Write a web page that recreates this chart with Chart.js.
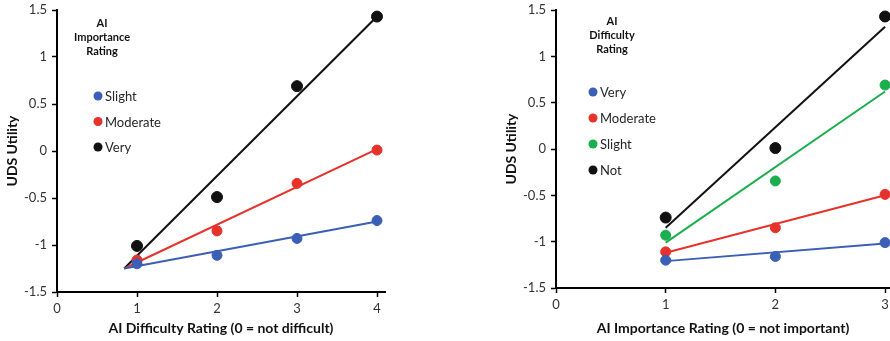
<!DOCTYPE html>
<html>
<head>
<meta charset="utf-8">
<script src="https://cdn.jsdelivr.net/npm/chart.js@4"></script>
<style>
  body { margin: 0; background: #fff; }
  #wrap { position: relative; width: 890px; height: 341px; overflow: hidden; }
  .box { position: absolute; top: 0; width: 445px; height: 341px; }
</style>
</head>
<body>
<div id="wrap">
  <div class="box" style="left:0"><canvas id="left-canvas"></canvas></div>
  <div class="box" style="left:445px"><canvas id="right-canvas"></canvas></div>
</div>
<script>
// left panel: x = AI difficulty rating, series = AI importance
const diffLevels = [1, 2, 3, 4];
const impSlight = [-1.20, -1.11, -0.93, -0.74];
const impModerate = [-1.16, -0.85, -0.345, 0.01];
const impVery = [-1.01, -0.49, 0.69, 1.43];

// trend lines (end points)
const leftTrendX = [0.84, 4];
const trendImpSlight = [-1.25, -0.75];
const trendImpModerate = [-1.25, 0.02];
const trendImpVery = [-1.25, 1.43];

// right panel: x = AI importance rating, series = AI difficulty
const impLevels = [1, 2, 3];
const diffVery = [-1.20, -1.16, -1.01];
const diffModerate = [-1.11, -0.85, -0.49];
const diffSlight = [-0.93, -0.345, 0.69];
const diffNot = [-0.74, 0.01, 1.43];

const rightTrendX = [1, 3];
const trendDiffVery = [-1.21, -1.02];
const trendDiffModerate = [-1.12, -0.50];
const trendDiffSlight = [-1.01, 0.62];
const trendDiffNot = [-0.85, 1.32];

const BLUE = "#3b5fb6";
const RED = "#e5322b";
const GREEN = "#1aae4e";
const BLACK = "#111111";
const FONT = "Lato";

const toPoints = (xs, ys) => xs.map((x, i) => ({ x: x, y: ys[i] }));

const inlineLegend = {
  id: "inlineLegend",
  afterDraw(chart, args, opts) {
    const ctx = chart.ctx;
    ctx.save();
    ctx.textBaseline = "middle";
    ctx.textAlign = "center";
    ctx.fillStyle = "#111";
    ctx.font = `bold 11px ${FONT}`;
    opts.title.forEach((t, i) => ctx.fillText(t, opts.titleX, opts.titleY + i * 14));
    ctx.textAlign = "left";
    ctx.font = `13px ${FONT}`;
    chart.data.datasets
      .filter((d) => d.type === "scatter")
      .forEach((d, i) => {
        const y = opts.itemY + i * opts.gap;
        ctx.fillStyle = d.backgroundColor;
        ctx.beginPath();
        ctx.arc(opts.itemX, y, 4.5, 0, Math.PI * 2);
        ctx.fill();
        ctx.fillStyle = "#262626";
        ctx.fillText(d.label, opts.itemX + 7, y + 1);
      });
    ctx.restore();
  },
};

const makeChart = (id, cfg) => {
  const datasets = [
    ...cfg.series.map(({ label, color, xs, ys }) => ({
      type: "scatter",
      label: label,
      data: toPoints(xs, ys),
      backgroundColor: color,
      borderColor: color,
      pointRadius: color === BLACK ? 5.5 : 5,
      pointHoverRadius: 5,
      clip: false,
      order: 1,
    })),
    ...cfg.trends.map(({ color, xs, ys }) => ({
      type: "line",
      label: "",
      data: toPoints(xs, ys),
      borderColor: color,
      borderWidth: 2,
      pointRadius: 0,
      fill: false,
      clip: false,
      order: 2,
    })),
  ];
  new Chart(document.getElementById(id), {
    type: "scatter",
    data: { datasets: datasets },
    plugins: [inlineLegend],
    options: {
      responsive: true,
      maintainAspectRatio: false,
      animation: false,
      layout: { padding: cfg.padding, autoPadding: false },
      plugins: {
        legend: { display: false },
        tooltip: { enabled: false },
        inlineLegend: cfg.legend,
      },
      scales: {
        x: {
          type: "linear",
          min: 0,
          max: cfg.xMax,
          afterFit: (s) => {
            s.height = cfg.xHeight;
            s.paddingLeft = 0;
            s.paddingRight = 0;
          },
          ticks: {
            stepSize: 1,
            includeBounds: false,
            color: "#333",
            padding: 4,
            font: { family: FONT, size: 13 },
          },
          grid: { drawOnChartArea: false, drawTicks: true, tickLength: 5, tickColor: "#000", tickWidth: 1.5 },
          border: { color: "#000", width: 2 },
          title: {
            display: true,
            text: cfg.xTitle,
            color: "#111",
            padding: { top: 6 },
            font: { family: FONT, size: 14, weight: "bold" },
          },
        },
        y: {
          min: -1.5,
          max: 1.5,
          afterFit: (s) => {
            s.width = 57;
            s.paddingTop = 0;
            s.paddingBottom = 0;
          },
          ticks: {
            stepSize: 0.5,
            color: "#333",
            padding: 5,
            font: { family: FONT, size: 13 },
            callback: (v) => String(v),
          },
          grid: { drawOnChartArea: false, drawTicks: true, tickLength: 5, tickColor: "#000", tickWidth: 1.5 },
          border: { color: "#000", width: 2 },
          title: {
            display: true,
            text: "UDS Utility",
            color: "#111",
            padding: { bottom: 0 },
            font: { family: FONT, size: 14, weight: "bold" },
          },
        },
      },
    },
  });
};

makeChart("left-canvas", {
  xMax: 4.1,
  xTitle: "AI Difficulty Rating (0 = not difficult)",
  xHeight: 49,
  padding: { left: 0, right: 60, top: 10, bottom: 0 },
  series: [
    { label: "Slight", color: BLUE, xs: diffLevels, ys: impSlight },
    { label: "Moderate", color: RED, xs: diffLevels, ys: impModerate },
    { label: "Very", color: BLACK, xs: diffLevels, ys: impVery },
  ],
  trends: [
    { color: BLUE, xs: leftTrendX, ys: trendImpSlight },
    { color: RED, xs: leftTrendX, ys: trendImpModerate },
    { color: BLACK, xs: leftTrendX, ys: trendImpVery },
  ],
  legend: {
    title: ["AI", "Importance", "Rating"],
    titleX: 102, titleY: 23,
    itemX: 98, itemY: 96, gap: 25.5,
  },
});

makeChart("right-canvas", {
  xMax: 3.045,
  xTitle: "AI Importance Rating (0 = not important)",
  xHeight: 53,
  padding: { left: 54, right: 0, top: 10, bottom: 0 },
  series: [
    { label: "Very", color: BLUE, xs: impLevels, ys: diffVery },
    { label: "Moderate", color: RED, xs: impLevels, ys: diffModerate },
    { label: "Slight", color: GREEN, xs: impLevels, ys: diffSlight },
    { label: "Not", color: BLACK, xs: impLevels, ys: diffNot },
  ],
  trends: [
    { color: BLUE, xs: rightTrendX, ys: trendDiffVery },
    { color: RED, xs: rightTrendX, ys: trendDiffModerate },
    { color: GREEN, xs: rightTrendX, ys: trendDiffSlight },
    { color: BLACK, xs: rightTrendX, ys: trendDiffNot },
  ],
  legend: {
    title: ["AI", "Difficulty", "Rating"],
    titleX: 167, titleY: 21,
    itemX: 148, itemY: 92, gap: 26,
  },
});
</script>
</body>
</html>
